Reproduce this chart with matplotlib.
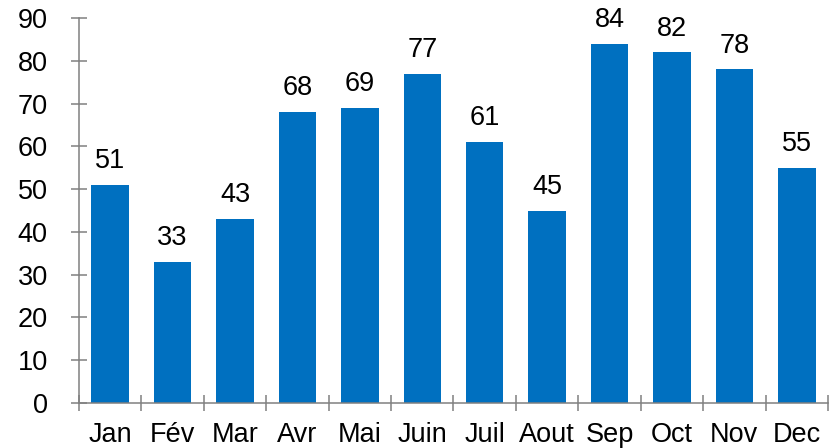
import numpy as np
import matplotlib.pyplot as plt

mois = ["Jan", "Fév", "Mar", "Avr", "Mai", "Juin", "Juil", "Aout", "Sep", "Oct", "Nov", "Dec"]
valeurs = [51, 33, 43, 68, 69, 77, 61, 45, 84, 82, 78, 55]

plt.rcParams['font.family'] = ['Liberation Sans', 'DejaVu Sans']

fig = plt.figure(figsize=(8.34, 4.48), dpi=100)
ax = fig.add_axes([0.0947, 0.1004, 0.8981, 0.8594])

x = np.arange(len(mois))
bars = ax.bar(x, valeurs, width=0.6, color="#0070C0")
for xi, v in zip(x, valeurs):
    ax.text(xi, v + 2.5, str(v), ha="center", va="bottom", fontsize=19.5)

ax.set_xlim(-0.5, len(mois) - 0.5)
ax.set_ylim(0, 90)
ax.set_yticks(np.arange(0, 91, 10))
ax.set_xticks(x)
ax.set_xticklabels(mois)
ax.set_xticks(np.arange(-0.5, len(mois)), minor=True)

for s in ["top", "right"]:
    ax.spines[s].set_visible(False)
for s in ["left", "bottom"]:
    ax.spines[s].set_color("#808080")
    ax.spines[s].set_linewidth(1.1)

ax.tick_params(axis="y", direction="inout", length=11, width=1.1, color="#808080",
               labelsize=19.5, pad=17)
ax.tick_params(axis="x", which="major", length=0, labelsize=19.5, pad=14)
ax.tick_params(axis="x", which="minor", direction="inout", length=12, width=1.1, color="#808080")

fig.savefig("out.png", dpi=100)
